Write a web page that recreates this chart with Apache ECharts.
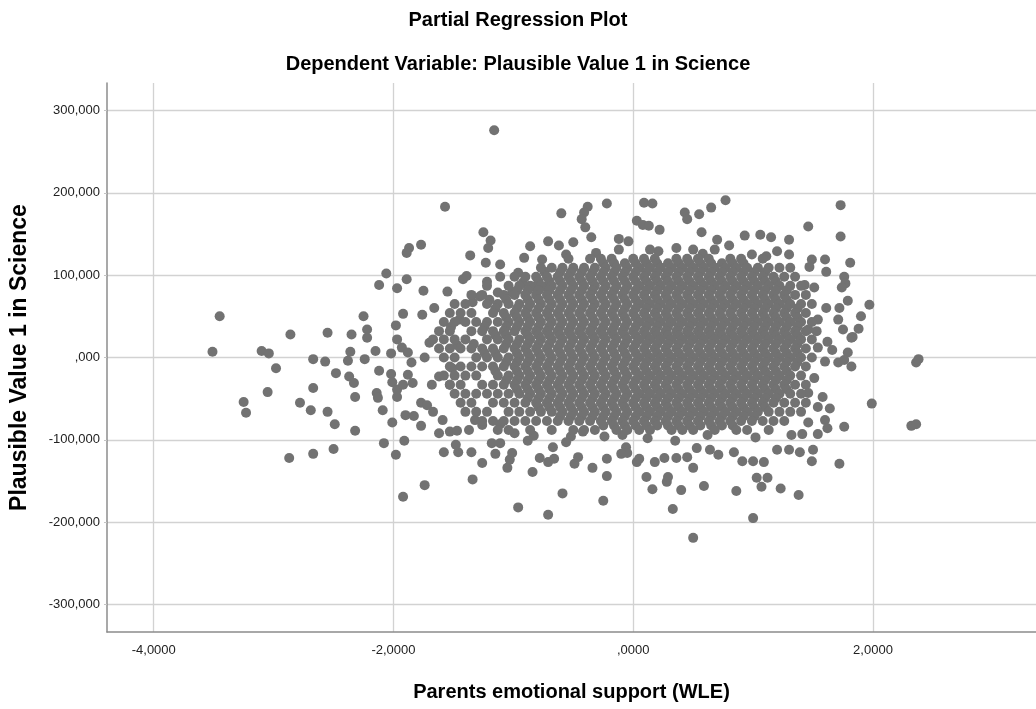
<!DOCTYPE html>
<html><head><meta charset="utf-8">
<script src="https://cdn.jsdelivr.net/npm/echarts@6/dist/echarts.min.js"></script>
<style>html,body{margin:0;padding:0;background:#fff}#c{width:1036px;height:709px}</style>
</head><body><div id="c"></div>
<script>
const chartTitle = 'Partial Regression Plot';
const chartSubtitle = 'Dependent Variable: Plausible Value 1 in Science';
const xAxisName = 'Parents emotional support (WLE)';
const yAxisName = 'Plausible Value 1 in Science';
const xRange = [-4.39, 3.36];
const yRange = [-333.3, 333.3];
const xTickStep = 2;
const yTickStep = 100;

// individually readable points [x, y]
const sparsePoints = [
[-3.51,7],[-3.10,8],[-3.04,5],[-2.98,-13],[-3.25,-54],[-3.23,-67],[-3.05,-42],[-2.78,-55],[-2.69,-64],[-2.67,-2],[-2.67,-37],[-2.87,-122],[-2.67,-117],[-2.57,-5],[-2.55,-66],[-2.50,-111],[-2.49,-81],[-2.48,-19],[-2.36,7],[-2.38,-4],[-2.37,-23],[-2.33,-31],[-2.32,-48],[-2.32,-89],[-2.24,-2],[-2.22,24],[-2.15,8],[-2.12,-16],[-2.14,-43],[-2.13,-49],[-2.09,-64],[-2.08,-104],[-2.01,-79],[-1.98,-118],[-1.91,-101],[-1.92,-169],[-2.02,5],[-2.02,-20],[-2.01,-30],[-1.97,-48],[-1.97,-39],[-1.92,-33],[-1.88,-21],[-1.84,-31],[-1.90,-70],[-1.83,-71],[-1.77,-55],[-1.77,-83],[-1.74,-155],[-1.97,22],[-1.93,12],[-1.88,6],[-1.85,-6],
[-1.68,-33],[-1.67,-66],[-1.72,-58],[-1.53,-33],[-1.62,-23],[-1.51,-13],[-1.74,0],[-1.70,18],[-1.47,15],
[-3.45,50],[-2.86,28],[-2.55,30],[-2.35,28],[-2.25,50],[-2.22,34],[-2.06,102],[-2.12,88],[-1.97,84],[-1.89,95],[-1.98,39],[-1.92,53],[-1.87,133],[-1.89,127],[-1.77,137],[-1.75,81],[-1.76,52],
[-1.16,276],[-1.57,183],[-1.25,152],[-1.19,142],[-1.21,133],[-1.36,124],[-1.23,115],[-1.11,113],[-0.86,135],[-0.71,141],[-0.91,121],[-0.60,175],[-0.38,183],[-0.41,176],[-0.22,187],[-0.43,168],[-0.40,158],[0.09,188],[0.03,166],[0.08,161],[-0.12,144],[-0.04,141],[-0.35,146],[-0.50,140],[-0.62,136],[-0.56,125],[-0.76,119],[-0.74,104],[-0.96,103],[-1.11,98],[-1.22,92],[-1.42,95],[-1.39,99],[-1.55,80],[-1.66,60],[-1.52,37],[-1.45,46],[-1.34,67],[-1.28,74],[-1.20,70],[-1.13,79],[-1.01,79],[-0.92,91],[-0.84,86],[-0.74,86],
[0.77,191],[0.65,182],[0.43,176],[0.45,168],[0.55,174],[0.16,187],[1.73,185],[1.73,147],[1.81,115],[1.76,98],[1.77,90],[1.74,85],[1.79,69],[1.97,64],[1.90,50],[1.75,34],[1.88,35],[1.83,25],[1.46,159],[1.51,85],[1.43,88],[1.49,119],[1.47,110],[1.60,119],[1.61,104],[1.61,60],[1.72,60],[1.54,46],[1.71,46],[1.46,34],[1.30,143],[1.30,125],[1.20,129],[1.11,123],[0.99,125],[1.06,149],[1.15,146],[0.93,148],[0.80,136],[0.70,143],[0.57,152],[0.22,155],[0.13,160],
[-0.31,127],[0.21,129],[0.58,126],[0.36,133],[-0.12,131],
[1.60,-5],[1.71,-6],[1.82,-11],[1.54,12],[1.62,19],[1.66,9],[1.79,6],[1.82,24],[1.58,-48],[1.64,-62],[1.54,-60],[1.60,-76],[1.62,-86],[1.54,-93],[1.51,-25],[1.46,-43],[1.46,-79],[1.41,-93],[1.32,-94],[1.76,-84],[1.72,-129],[1.99,-56],[2.32,-83],[2.36,-81],[2.36,-6],[2.38,-2],[1.76,-3],
[0.50,-219],[0.33,-184],[0.40,-161],[0.59,-156],[0.86,-162],[0.16,-160],[0.28,-151],[0.29,-145],[0.11,-145],[1.03,-146],[1.12,-146],[1.07,-157],[1.00,-195],[1.23,-159],[1.38,-167],[1.49,-126],[1.50,-112],[1.39,-115],[1.30,-112],[1.20,-112],[1.09,-127],[1.00,-126],[0.91,-126],[0.84,-115],[0.71,-118],[0.64,-112],[0.53,-110],[0.50,-134],[0.45,-121],[0.36,-122],[0.26,-122],[0.18,-127],
[-0.52,-96],[0.12,-98],[0.62,-94],[1.02,-97],[-0.83,-95],[0.35,-101],
[-1.34,-148],[-0.96,-182],[-0.71,-191],[-0.59,-165],[-0.25,-174],[-0.22,-144],[-0.22,-123],[-0.34,-134],[-0.49,-129],[-0.46,-121],[-0.84,-139],[-1.05,-134],[-1.03,-124],[-1.01,-116],[-1.26,-128],[-1.15,-117],[-1.35,-115],[-1.46,-115],[-1.48,-106],[-1.58,-115],[-1.59,-76],[-1.62,-92],[-1.53,-90],[-1.47,-89],[-1.37,-88],[-1.32,-76],[-1.26,-82],[-1.18,-104],[-1.11,-104],[-1.11,-81],[-0.99,-92],[-0.88,-101],[-0.78,-122],[-0.71,-127],[-0.66,-123],[-0.67,-109],[-0.56,-103],[-0.06,-109],[-0.05,-116],[-0.10,-117],[0.03,-127],[0.05,-123],[-0.09,-94],[-0.24,-96],[-0.42,-90]
];

// overlapping core of the cloud, estimated row by row: y of each row, x of points in it
const denseRowY = [131,120,114.5,109,103.5,98,92.5,87,81.5,76,70.5,65,59.5,54,48.5,43,37.5,32,27,22,16.5,11,5.5,0,-5.5,-11,-16.5,-22,-27.5,-33,-38.5,-44,-49.5,-55,-60.5,-66,-71.5,-77,-82.5,-88];
const denseRowX = [
[0.14,0.5,0.68],
[-0.54,-0.36,-0.27,-0.18,0,0.09,0.18,0.36,0.45,0.54,0.63,0.81,0.9,1.08],
[-0.25,-0.16,-0.07,0.02,0.11,0.2,0.29,0.38,0.47,0.56,0.65,0.74,0.83,0.92],
[-0.77,-0.68,-0.59,-0.5,-0.41,-0.32,-0.23,-0.14,-0.05,0.05,0.14,0.23,0.32,0.41,0.5,0.59,0.68,0.77,0.86,0.95,1.04,1.13,1.22,1.31],
[-0.61,-0.52,-0.43,-0.34,-0.25,-0.16,-0.07,0.02,0.11,0.2,0.29,0.38,0.47,0.56,0.65,0.74,0.83,0.92,1.01,1.1],
[-0.99,-0.9,-0.81,-0.72,-0.63,-0.54,-0.45,-0.36,-0.27,-0.18,-0.09,0,0.09,0.18,0.27,0.36,0.45,0.54,0.63,0.72,0.81,0.9,0.99,1.08,1.17,1.26,1.35],
[-0.79,-0.7,-0.61,-0.52,-0.43,-0.34,-0.25,-0.16,-0.07,0.02,0.11,0.2,0.29,0.38,0.47,0.56,0.65,0.74,0.83,0.92,1.01,1.1,1.19],
[-1.22,-1.04,-0.95,-0.86,-0.77,-0.68,-0.59,-0.5,-0.41,-0.32,-0.23,-0.14,-0.05,0.05,0.14,0.23,0.32,0.41,0.5,0.59,0.68,0.77,0.86,0.95,1.04,1.13,1.22,1.31,1.4],
[-0.97,-0.88,-0.79,-0.7,-0.61,-0.52,-0.43,-0.34,-0.25,-0.16,-0.07,0.02,0.11,0.2,0.29,0.38,0.47,0.56,0.65,0.74,0.83,0.92,1.01,1.1,1.19,1.28],
[-1.35,-1.26,-1.08,-0.99,-0.9,-0.81,-0.72,-0.63,-0.54,-0.45,-0.36,-0.27,-0.18,-0.09,0,0.09,0.18,0.27,0.36,0.45,0.54,0.63,0.72,0.81,0.9,0.99,1.08,1.17,1.26,1.35,1.44],
[-1.06,-0.88,-0.79,-0.7,-0.61,-0.52,-0.43,-0.34,-0.25,-0.16,-0.07,0.02,0.11,0.2,0.29,0.38,0.47,0.56,0.65,0.74,0.83,0.92,1.01,1.1,1.19,1.28],
[-1.49,-1.4,-1.22,-1.13,-1.04,-0.95,-0.86,-0.77,-0.68,-0.59,-0.5,-0.41,-0.32,-0.23,-0.14,-0.05,0.05,0.14,0.23,0.32,0.41,0.5,0.59,0.68,0.77,0.86,0.95,1.04,1.13,1.22,1.31,1.4,1.49],
[-1.15,-0.97,-0.88,-0.79,-0.7,-0.61,-0.52,-0.43,-0.34,-0.25,-0.16,-0.07,0.02,0.11,0.2,0.29,0.38,0.47,0.56,0.65,0.74,0.83,0.92,1.01,1.1,1.19,1.28,1.37],
[-1.53,-1.44,-1.35,-1.17,-1.08,-0.99,-0.9,-0.81,-0.72,-0.63,-0.54,-0.45,-0.36,-0.27,-0.18,-0.09,0,0.09,0.18,0.27,0.36,0.45,0.54,0.63,0.72,0.81,0.9,0.99,1.08,1.17,1.26,1.35,1.44],
[-1.06,-0.97,-0.88,-0.79,-0.7,-0.61,-0.52,-0.43,-0.34,-0.25,-0.16,-0.07,0.02,0.11,0.2,0.29,0.38,0.47,0.56,0.65,0.74,0.83,0.92,1.01,1.1,1.19,1.28,1.37],
[-1.58,-1.49,-1.4,-1.31,-1.22,-1.13,-1.04,-0.95,-0.86,-0.77,-0.68,-0.59,-0.5,-0.41,-0.32,-0.23,-0.14,-0.05,0.05,0.14,0.23,0.32,0.41,0.5,0.59,0.68,0.77,0.86,0.95,1.04,1.13,1.22,1.31,1.4,1.49],
[-1.24,-1.06,-0.97,-0.88,-0.79,-0.7,-0.61,-0.52,-0.43,-0.34,-0.25,-0.16,-0.07,0.02,0.11,0.2,0.29,0.38,0.47,0.56,0.65,0.74,0.83,0.92,1.01,1.1,1.19,1.28,1.37],
[-1.62,-1.53,-1.35,-1.26,-1.17,-1.08,-0.99,-0.9,-0.81,-0.72,-0.63,-0.54,-0.45,-0.36,-0.27,-0.18,-0.09,0,0.09,0.18,0.27,0.36,0.45,0.54,0.63,0.72,0.81,0.9,0.99,1.08,1.17,1.26,1.35,1.44,1.53],
[-1.15,-1.06,-0.88,-0.79,-0.7,-0.61,-0.52,-0.43,-0.34,-0.25,-0.16,-0.07,0.02,0.11,0.2,0.29,0.38,0.47,0.56,0.65,0.74,0.83,0.92,1.01,1.1,1.19,1.28,1.37],
[-1.67,-1.58,-1.49,-1.4,-1.22,-1.13,-1.04,-0.95,-0.86,-0.77,-0.68,-0.59,-0.5,-0.41,-0.32,-0.23,-0.14,-0.05,0.05,0.14,0.23,0.32,0.41,0.5,0.59,0.68,0.77,0.86,0.95,1.04,1.13,1.22,1.31,1.4,1.49],
[-1.33,-1.06,-0.97,-0.88,-0.79,-0.7,-0.61,-0.52,-0.43,-0.34,-0.25,-0.16,-0.07,0.02,0.11,0.2,0.29,0.38,0.47,0.56,0.65,0.74,0.83,0.92,1.01,1.1,1.19,1.28,1.37],
[-1.62,-1.53,-1.44,-1.35,-1.26,-1.17,-1.08,-0.99,-0.9,-0.81,-0.72,-0.63,-0.54,-0.45,-0.36,-0.27,-0.18,-0.09,0,0.09,0.18,0.27,0.36,0.45,0.54,0.63,0.72,0.81,0.9,0.99,1.08,1.17,1.26,1.35,1.44],
[-1.24,-1.15,-0.97,-0.88,-0.79,-0.7,-0.61,-0.52,-0.43,-0.34,-0.25,-0.16,-0.07,0.02,0.11,0.2,0.29,0.38,0.47,0.56,0.65,0.74,0.83,0.92,1.01,1.1,1.19,1.28,1.37],
[-1.58,-1.49,-1.31,-1.22,-1.13,-1.04,-0.95,-0.86,-0.77,-0.68,-0.59,-0.5,-0.41,-0.32,-0.23,-0.14,-0.05,0.05,0.14,0.23,0.32,0.41,0.5,0.59,0.68,0.77,0.86,0.95,1.04,1.13,1.22,1.31,1.4,1.49],
[-1.06,-0.97,-0.88,-0.79,-0.7,-0.61,-0.52,-0.43,-0.34,-0.25,-0.16,-0.07,0.02,0.11,0.2,0.29,0.38,0.47,0.56,0.65,0.74,0.83,0.92,1.01,1.1,1.19,1.28,1.37],
[-1.53,-1.44,-1.35,-1.26,-1.17,-1.08,-0.99,-0.9,-0.81,-0.72,-0.63,-0.54,-0.45,-0.36,-0.27,-0.18,-0.09,0,0.09,0.18,0.27,0.36,0.45,0.54,0.63,0.72,0.81,0.9,0.99,1.08,1.17,1.26,1.35,1.44],
[-1.15,-0.97,-0.88,-0.79,-0.7,-0.61,-0.52,-0.43,-0.34,-0.25,-0.16,-0.07,0.02,0.11,0.2,0.29,0.38,0.47,0.56,0.65,0.74,0.83,0.92,1.01,1.1,1.19,1.28],
[-1.58,-1.49,-1.4,-1.31,-1.13,-1.04,-0.95,-0.86,-0.77,-0.68,-0.59,-0.5,-0.41,-0.32,-0.23,-0.14,-0.05,0.05,0.14,0.23,0.32,0.41,0.5,0.59,0.68,0.77,0.86,0.95,1.04,1.13,1.22,1.31,1.4],
[-1.06,-0.97,-0.88,-0.79,-0.7,-0.61,-0.52,-0.43,-0.34,-0.25,-0.16,-0.07,0.02,0.11,0.2,0.29,0.38,0.47,0.56,0.65,0.74,0.83,0.92,1.01,1.1,1.19,1.28],
[-1.53,-1.44,-1.26,-1.17,-1.08,-0.99,-0.9,-0.81,-0.72,-0.63,-0.54,-0.45,-0.36,-0.27,-0.18,-0.09,0,0.09,0.18,0.27,0.36,0.45,0.54,0.63,0.72,0.81,0.9,0.99,1.08,1.17,1.26,1.35,1.44],
[-0.97,-0.88,-0.79,-0.7,-0.61,-0.52,-0.43,-0.34,-0.25,-0.16,-0.07,0.02,0.11,0.2,0.29,0.38,0.47,0.56,0.65,0.74,0.83,0.92,1.01,1.1,1.19,1.28],
[-1.49,-1.4,-1.31,-1.22,-1.13,-1.04,-0.95,-0.86,-0.77,-0.68,-0.59,-0.5,-0.41,-0.32,-0.23,-0.14,-0.05,0.05,0.14,0.23,0.32,0.41,0.5,0.59,0.68,0.77,0.86,0.95,1.04,1.13,1.22,1.31,1.4],
[-0.88,-0.79,-0.7,-0.61,-0.52,-0.43,-0.34,-0.25,-0.16,-0.07,0.02,0.11,0.2,0.29,0.38,0.47,0.56,0.65,0.74,0.83,0.92,1.01,1.1,1.19],
[-1.44,-1.35,-1.17,-1.08,-0.99,-0.9,-0.81,-0.72,-0.63,-0.54,-0.45,-0.36,-0.27,-0.18,-0.09,0,0.09,0.18,0.27,0.36,0.45,0.54,0.63,0.72,0.81,0.9,0.99,1.08,1.17,1.26,1.35,1.44],
[-0.79,-0.7,-0.61,-0.52,-0.43,-0.34,-0.25,-0.16,-0.07,0.02,0.11,0.2,0.29,0.38,0.47,0.56,0.65,0.74,0.83,0.92,1.01,1.1],
[-1.4,-1.31,-1.22,-1.04,-0.95,-0.86,-0.77,-0.68,-0.59,-0.5,-0.41,-0.32,-0.23,-0.14,-0.05,0.05,0.14,0.23,0.32,0.41,0.5,0.59,0.68,0.77,0.86,0.95,1.04,1.13,1.22,1.31,1.4],
[-0.61,-0.52,-0.43,-0.34,-0.25,-0.16,-0.07,0.02,0.11,0.2,0.29,0.38,0.47,0.56,0.65,0.74,0.83,0.92,1.01],
[-1.26,-1.17,-1.08,-0.99,-0.9,-0.81,-0.72,-0.63,-0.54,-0.45,-0.36,-0.27,-0.18,-0.09,0,0.09,0.18,0.27,0.36,0.45,0.54,0.63,0.72,0.81,0.9,0.99,1.08,1.17,1.26],
[-0.25,-0.16,-0.07,0.02,0.11,0.2,0.29,0.38,0.47,0.56,0.65,0.74,0.83],
[-1.13,-1.04,-0.86,-0.68,-0.5,-0.41,-0.32,-0.14,-0.05,0.05,0.14,0.32,0.41,0.5,0.68,0.86,0.95,1.13]
];

const points = sparsePoints.slice();
denseRowX.forEach((row, i) => row.forEach(x => points.push([x, denseRowY[i]])));

function fmt(v, d) {
  let s = Math.abs(v).toFixed(d).replace('.', ',');
  if (s.charAt(0) === '0') s = s.slice(1);
  return (v < 0 ? '-' : '') + s;
}

const FONT = '"Liberation Sans", Arial, sans-serif';
const chart = echarts.init(document.getElementById('c'), null, {renderer: 'canvas'});
chart.setOption({
  animation: false,
  backgroundColor: '#ffffff',
  title: [
    {text: chartTitle, left: 'center', top: 10, padding: 0,
     textStyle: {fontFamily: FONT, fontSize: 20, fontWeight: 'bold', color: '#000'}},
    {text: chartSubtitle, left: 'center', top: 54, padding: 0,
     textStyle: {fontFamily: FONT, fontSize: 20, fontWeight: 'bold', color: '#000'}}
  ],
  grid: {left: 107, right: 0, top: 83, bottom: 77, containLabel: false},
  xAxis: {
    type: 'value', min: xRange[0], max: xRange[1],
    minInterval: xTickStep, maxInterval: xTickStep,
    name: xAxisName, nameLocation: 'middle', nameGap: 50,
    nameTextStyle: {fontFamily: FONT, fontSize: 20, fontWeight: 'bold', color: '#000'},
    axisLine: {show: true, onZero: false, lineStyle: {color: '#8c8c8c', width: 1.5}},
    axisTick: {show: false},
    axisLabel: {fontFamily: FONT, fontSize: 13, color: '#222', margin: 12,
      showMinLabel: false, showMaxLabel: false, formatter: v => fmt(v, 4)},
    splitLine: {show: true, showMinLine: false, showMaxLine: false, lineStyle: {color: '#d2d2d2', width: 1.3}}
  },
  yAxis: {
    type: 'value', min: yRange[0], max: yRange[1],
    minInterval: yTickStep, maxInterval: yTickStep,
    name: yAxisName, nameLocation: 'middle', nameGap: 76, nameRotate: 90,
    nameTextStyle: {fontFamily: FONT, fontSize: 23, fontWeight: 'bold', color: '#000'},
    axisLine: {show: true, onZero: false, lineStyle: {color: '#8c8c8c', width: 1.5}},
    axisTick: {show: true, length: 3, lineStyle: {color: '#c4c4c4'}},
    axisLabel: {fontFamily: FONT, fontSize: 13, color: '#222', margin: 7,
      showMinLabel: false, showMaxLabel: false, formatter: v => fmt(v, 3)},
    splitLine: {show: true, showMinLine: false, showMaxLine: false, lineStyle: {color: '#d2d2d2', width: 1.3}}
  },
  series: [{
    type: 'scatter', data: points, symbol: 'circle', symbolSize: 10,
    itemStyle: {color: '#727272', opacity: 1}, silent: true
  }]
});
</script>
</body></html>
